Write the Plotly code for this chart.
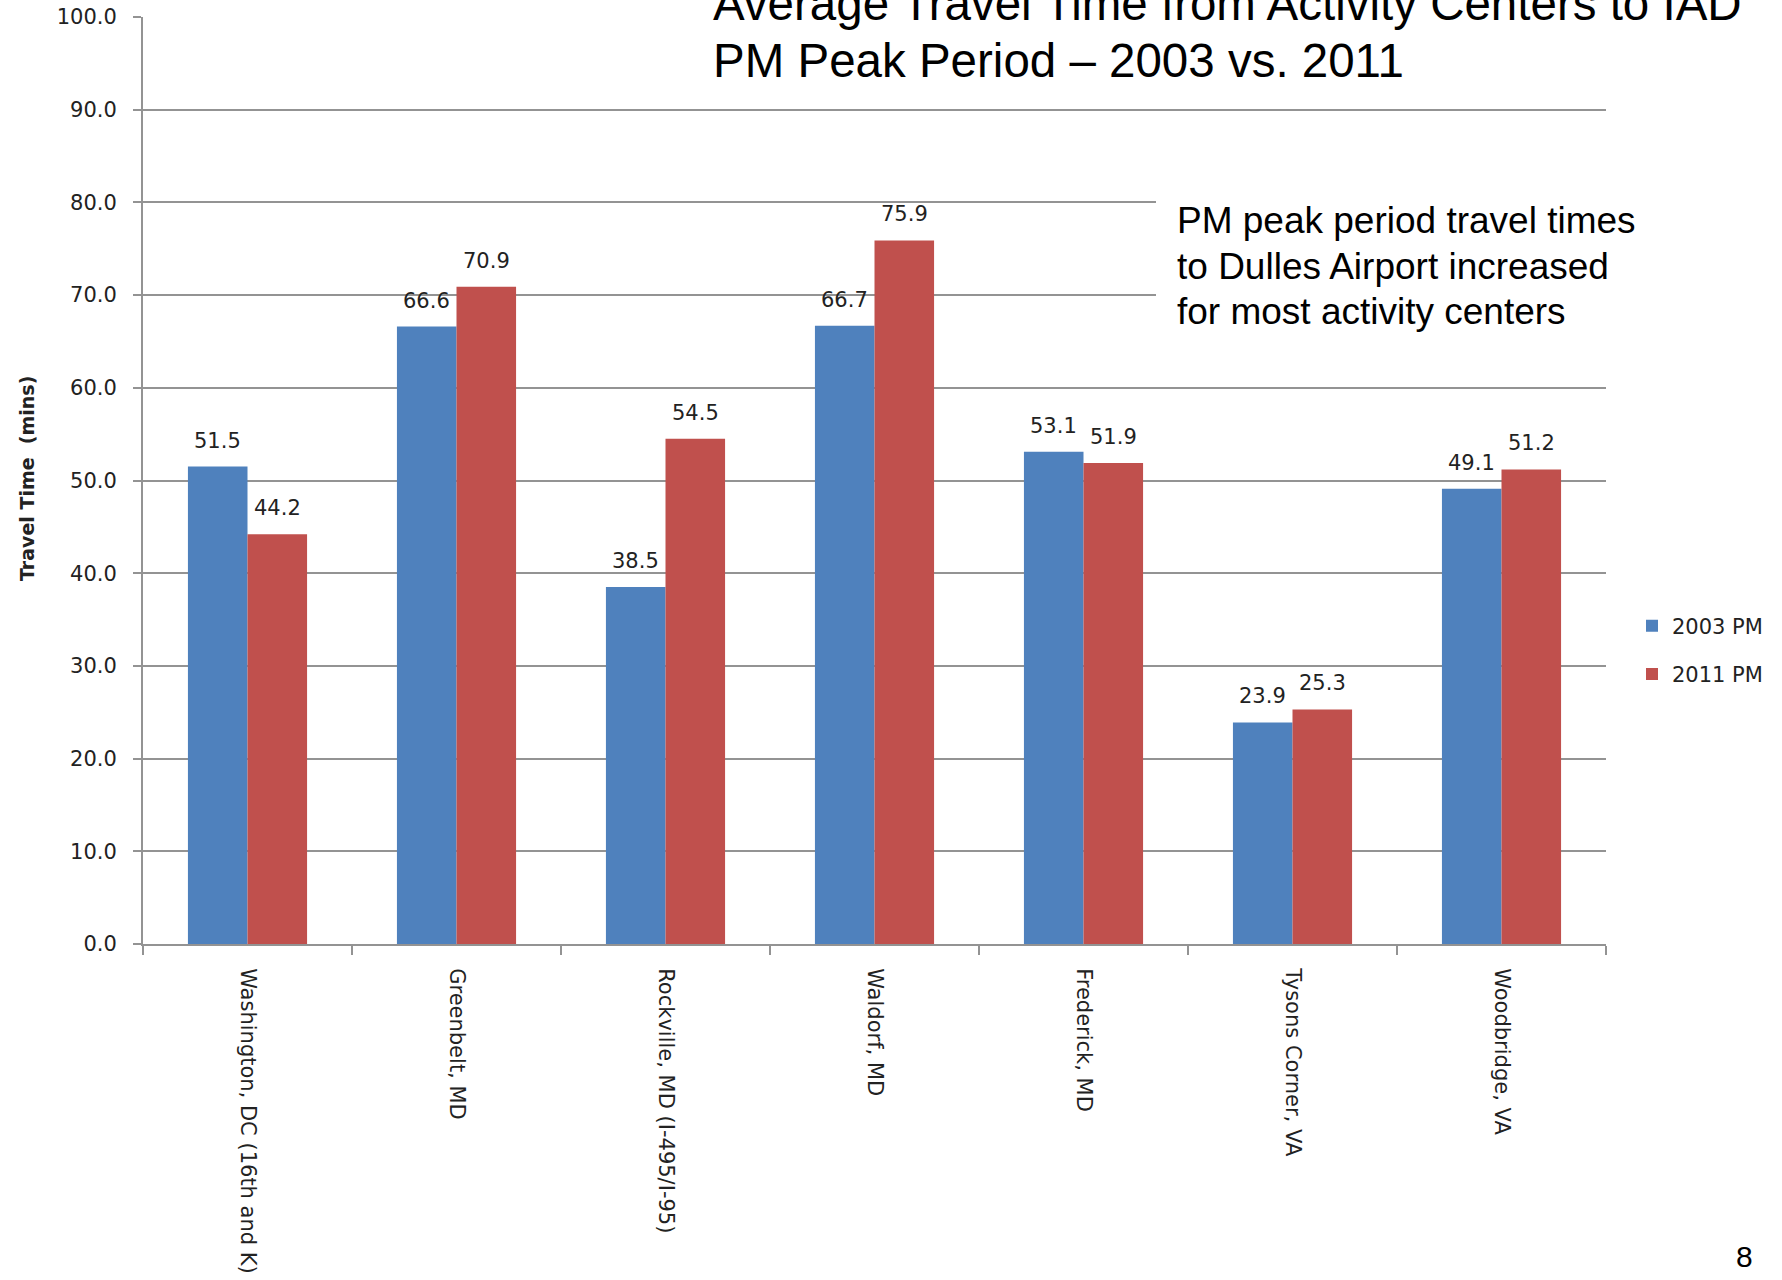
import plotly.graph_objects as go

# Activity centers and PM peak travel times to IAD (minutes)
centers = [
    "Washington, DC (16th and K)",
    "Greenbelt, MD",
    "Rockville, MD (I-495/I-95)",
    "Waldorf, MD",
    "Frederick, MD",
    "Tysons Corner, VA",
    "Woodbridge, VA",
]
pm_2003 = [51.5, 66.6, 38.5, 66.7, 53.1, 23.9, 49.1]
pm_2011 = [44.2, 70.9, 54.5, 75.9, 51.9, 25.3, 51.2]
series_names = ["2003 PM", "2011 PM"]
y_ticks = [0, 10, 20, 30, 40, 50, 60, 70, 80, 90, 100]

title_lines = [
    "Average Travel Time from Activity Centers to IAD",
    "PM Peak Period \u2013 2003 vs. 2011",
]
note_lines = [
    "PM peak period travel times",
    "to Dulles Airport increased",
    "for most activity centers",
]
page_number = "8"

BLUE = "#4F81BD"
RED = "#C0504D"
GRID = "#939393"
TEXT = "#222222"

W, H = 1782, 1280
M_L, M_R, M_T, M_B = 143, 176, 17, 336
PW, PH = W - M_L - M_R, H - M_T - M_B


def px_x(X):
    return (X - M_L) / PW


def px_y(Y):
    return (H - M_B - Y) / PH


fig = go.Figure()
for name, vals, col in [(series_names[0], pm_2003, BLUE), (series_names[1], pm_2011, RED)]:
    fig.add_trace(go.Bar(
        x=centers, y=vals, name=name, legendgroup=name,
        marker=dict(color=col, line=dict(width=0)),
    ))

annotations = []
# value labels above each bar
bar_half = 30
for vals, sh in [(pm_2003, -bar_half), (pm_2011, bar_half)]:
    for c, v in zip(centers, vals):
        annotations.append(dict(
            x=c, y=v, xref="x", yref="y", text=f"{v:.1f}", showarrow=False,
            xshift=sh, yshift=26, yanchor="middle",
            font=dict(family="DejaVu Sans", size=21, color=TEXT),
        ))

# slide title
for txt, yc in zip(title_lines, [3, 60]):
    annotations.append(dict(
        x=px_x(711), y=px_y(yc), xref="paper", yref="paper", text=txt,
        showarrow=False, xanchor="left", yanchor="middle",
        font=dict(family="Liberation Sans", size=47.5, color="black"),
    ))

# callout text
for txt, yc in zip(note_lines, [220, 266, 311]):
    annotations.append(dict(
        x=px_x(1175), y=px_y(yc), xref="paper", yref="paper", text=txt,
        showarrow=False, xanchor="left", yanchor="middle",
        font=dict(family="Liberation Sans", size=37, color="black"),
    ))

# y-axis title
annotations.append(dict(
    x=px_x(27), y=px_y(479), xref="paper", yref="paper",
    text="<b>Travel Time  (mins)</b>", showarrow=False, textangle=-90,
    xanchor="center", yanchor="middle",
    font=dict(family="DejaVu Sans", size=19, color=TEXT),
))

# page number
annotations.append(dict(
    x=px_x(1744), y=px_y(1256), xref="paper", yref="paper", text=page_number,
    showarrow=False, xanchor="center", yanchor="middle",
    font=dict(family="Liberation Sans", size=30, color="black"),
))

shapes = [
    # white boxes behind the title and the callout
    dict(type="rect", xref="paper", yref="paper", layer="above",
         x0=px_x(693), x1=px_x(W), y0=px_y(95), y1=px_y(0),
         fillcolor="white", line=dict(width=0)),
    dict(type="rect", xref="paper", yref="paper", layer="above",
         x0=px_x(1156), x1=px_x(1720), y0=px_y(365), y1=px_y(192),
         fillcolor="white", line=dict(width=0)),
]

fig.update_layout(
    width=W, height=H,
    margin=dict(l=M_L, r=M_R, t=M_T, b=M_B, pad=0, autoexpand=False),
    paper_bgcolor="white", plot_bgcolor="white",
    barmode="group", bargap=0.43, bargroupgap=0,
    font=dict(family="DejaVu Sans", size=21, color=TEXT),
    showlegend=True,
    legend=dict(
        x=px_x(1632), y=px_y(650), xanchor="left", yanchor="middle",
        traceorder="grouped", tracegroupgap=18,
        font=dict(family="DejaVu Sans", size=21, color=TEXT),
        bgcolor="rgba(0,0,0,0)", borderwidth=0,
    ),
    annotations=annotations,
    shapes=shapes,
)

fig.update_xaxes(
    type="category", showline=True, linecolor=GRID, linewidth=2,
    ticks="outside", tickson="boundaries", ticklen=9, tickcolor=GRID, tickwidth=2,
    tickangle=90, ticklabelstandoff=18, showgrid=False, automargin=False,
    tickfont=dict(family="DejaVu Sans", size=21, color=TEXT),
)
fig.update_yaxes(
    range=[0, 100], tickvals=y_ticks, tickformat=".1f",
    showline=True, linecolor=GRID, linewidth=2,
    ticks="outside", ticklen=8, tickcolor=GRID, tickwidth=2,
    showgrid=True, gridcolor=GRID, gridwidth=2, zeroline=False,
    ticklabelstandoff=12, automargin=False,
    tickfont=dict(family="DejaVu Sans", size=21, color=TEXT),
)

fig.write_html("out.html")
